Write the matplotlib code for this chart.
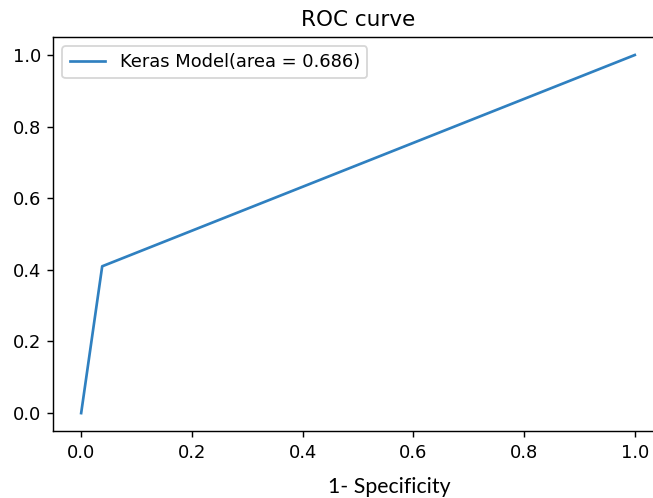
import numpy as np
from matplotlib import pyplot as plt

# ROC points
fpr = [0.0, 0.038, 1.0]
tpr = [0.0, 0.41, 1.0]
roc_auc = 0.686
ticks = [0.0, 0.2, 0.4, 0.6, 0.8, 1.0]

# screenshot looks like a default notebook figure scaled up ~1.8x,
# so keep matplotlib defaults and just raise the dpi
DPI = 129
fig = plt.figure(figsize=(653 / DPI, 498 / DPI), dpi=DPI)
ax = fig.add_axes([0.0819, 0.1345, 0.9326, 0.791])

ax.plot(fpr, tpr, color='#2f80c0',
        label='Keras Model(area = {:.3f})'.format(roc_auc))
ax.set_xticks(ticks)
ax.set_yticks(ticks)
ax.set_title('ROC curve')
ax.legend(loc='upper left')
ax.spines['right'].set_visible(False)  # cut off in the screenshot

# the x label sits a bit right of centre, in another font
fig.text(389 / 653, 1 - 487 / 498, '1- Specificity', ha='center', va='center',
         family=['Lato', 'DejaVu Sans'], fontsize=11.9, color='black')

fig.savefig('out.png', dpi=DPI)
